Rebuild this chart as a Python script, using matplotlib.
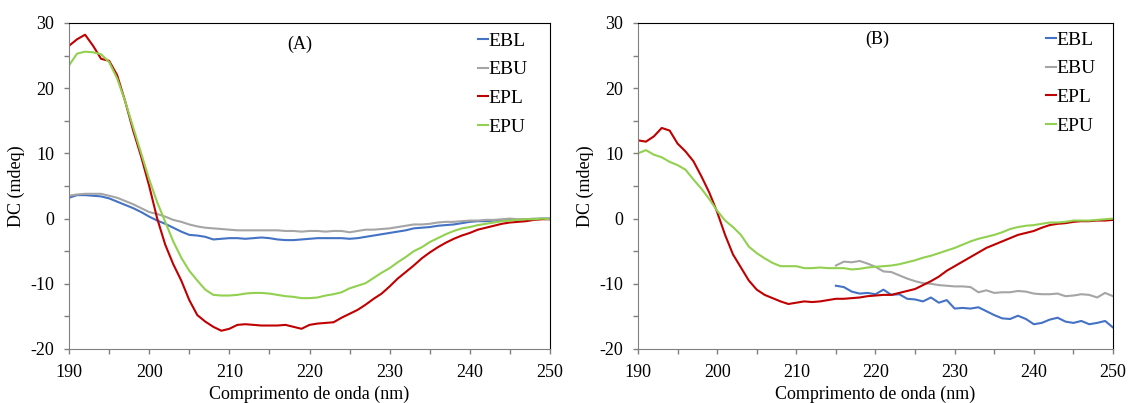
import matplotlib
matplotlib.use('Agg')
import matplotlib.pyplot as plt
from matplotlib.ticker import MultipleLocator
import numpy as np

plt.rcParams['font.family'] = ['Liberation Serif', 'DejaVu Serif']
plt.rcParams['axes.unicode_minus'] = False

wl = np.arange(190, 251)
wl_b_short = np.arange(215, 251)

# Panel A
ebl_a = [3.2, 3.6, 3.6, 3.5, 3.4, 3.1, 2.6, 2.1, 1.6, 1.0, 0.3, -0.3, -0.8, -1.4, -2.0, -2.5, -2.6, -2.8, -3.2, -3.1,
         -3.0, -3.0, -3.1, -3.0, -2.9, -3.0, -3.2, -3.3, -3.3, -3.2, -3.1, -3.0, -3.0, -3.0, -3.0, -3.1, -3.0, -2.8, -2.6, -2.4,
         -2.2, -2.0, -1.8, -1.5, -1.4, -1.3, -1.1, -1.0, -0.9, -0.7, -0.5, -0.4, -0.4, -0.3, -0.3, -0.2, -0.2, -0.1, -0.1, 0.0, 0.0]
ebu_a = [3.5, 3.7, 3.8, 3.8, 3.8, 3.5, 3.2, 2.7, 2.2, 1.6, 1.0, 0.7, 0.3, -0.2, -0.5, -0.9, -1.2, -1.4, -1.5, -1.6,
         -1.7, -1.8, -1.8, -1.8, -1.8, -1.8, -1.8, -1.9, -1.9, -2.0, -1.9, -1.9, -2.0, -1.9, -1.9, -2.1, -1.9, -1.7, -1.7, -1.6,
         -1.5, -1.3, -1.1, -0.9, -0.9, -0.8, -0.6, -0.5, -0.5, -0.4, -0.3, -0.3, -0.2, -0.2, -0.1, 0.0, -0.1, -0.1, 0.0, 0.0, 0.0]
epl_a = [26.5, 27.5, 28.2, 26.5, 24.5, 24.2, 22.0, 18.0, 13.5, 9.5, 5.0, 0.0, -4.0, -7.0, -9.5, -12.5, -14.8, -15.8, -16.6, -17.2,
         -16.9, -16.3, -16.2, -16.3, -16.4, -16.4, -16.4, -16.3, -16.6, -16.9, -16.3, -16.1, -16.0, -15.9, -15.2, -14.6, -14.0, -13.2, -12.3, -11.5,
         -10.4, -9.2, -8.2, -7.2, -6.1, -5.2, -4.4, -3.7, -3.1, -2.6, -2.2, -1.7, -1.4, -1.1, -0.8, -0.6, -0.5, -0.4, -0.2, -0.1, -0.1]
epu_a = [23.5, 25.3, 25.6, 25.5, 25.2, 24.0, 21.5, 18.0, 14.0, 10.0, 6.0, 2.5, -0.5, -3.5, -6.0, -8.0, -9.5, -10.9, -11.7, -11.8,
         -11.8, -11.7, -11.5, -11.4, -11.4, -11.5, -11.7, -11.9, -12.0, -12.2, -12.2, -12.1, -11.8, -11.6, -11.3, -10.7, -10.3, -9.9, -9.1, -8.3,
         -7.6, -6.7, -5.9, -5.0, -4.4, -3.6, -3.0, -2.4, -1.9, -1.5, -1.3, -1.0, -0.8, -0.6, -0.4, -0.3, -0.2, -0.1, -0.1, 0.0, -0.1]

# Panel B (EBL and EBU only from 215 nm)
ebl_b = [-10.3, -10.5, -11.2, -11.5, -11.4, -11.6, -10.9, -11.7, -11.6, -12.3, -12.4, -12.7, -12.1, -12.9, -12.5,
         -13.8, -13.7, -13.8, -13.6, -14.2, -14.8, -15.3, -15.4, -14.9, -15.4, -16.2, -16.0, -15.5, -15.2, -15.8,
         -16.0, -15.7, -16.2, -16.0, -15.7, -16.7]
ebu_b = [-7.2, -6.6, -6.7, -6.5, -6.9, -7.4, -8.1, -8.2, -8.7, -9.2, -9.6, -9.9, -10.0, -10.2, -10.3,
         -10.4, -10.4, -10.5, -11.3, -11.0, -11.4, -11.3, -11.3, -11.1, -11.2, -11.5, -11.6, -11.6, -11.5, -11.9,
         -11.8, -11.6, -11.7, -12.1, -11.4, -11.9]
epl_b = [12.0, 11.8, 12.6, 13.9, 13.5, 11.5, 10.3, 8.8, 6.5, 4.0, 1.0, -2.5, -5.5, -7.5, -9.5, -10.9, -11.7, -12.2, -12.7, -13.1,
         -12.9, -12.7, -12.8, -12.7, -12.5, -12.3, -12.3, -12.2, -12.1, -11.9, -11.8, -11.7, -11.7, -11.4, -11.1, -10.8, -10.2, -9.6, -8.9, -8.0,
         -7.3, -6.6, -5.9, -5.2, -4.5, -4.0, -3.5, -3.0, -2.5, -2.2, -1.9, -1.4, -1.0, -0.8, -0.7, -0.5, -0.4, -0.4, -0.3, -0.3, -0.2]
epu_b = [10.0, 10.5, 9.8, 9.4, 8.7, 8.2, 7.5, 6.0, 4.6, 3.0, 1.2, -0.3, -1.3, -2.5, -4.3, -5.3, -6.1, -6.8, -7.3, -7.3,
         -7.3, -7.6, -7.6, -7.5, -7.6, -7.6, -7.6, -7.8, -7.7, -7.5, -7.4, -7.3, -7.2, -7.0, -6.7, -6.4, -6.0, -5.7, -5.3, -4.9,
         -4.5, -4.0, -3.5, -3.1, -2.8, -2.5, -2.1, -1.6, -1.3, -1.1, -1.0, -0.8, -0.6, -0.6, -0.5, -0.3, -0.3, -0.3, -0.2, -0.1, 0.0]

colors = {'EBL': '#4472C4', 'EBU': '#A5A5A5', 'EPL': '#C00000', 'EPU': '#92D050'}

fig = plt.figure(figsize=(11.28, 4.03), dpi=100)
ax1 = fig.add_axes([0.0612, 0.134, 0.4264, 0.809])
ax2 = fig.add_axes([0.5656, 0.134, 0.4211, 0.809])


def style(ax, tag, tag_pos, leg_pos):
    ax.set_xlim(190, 250)
    ax.set_ylim(-20, 30)
    ax.xaxis.set_major_locator(MultipleLocator(10))
    ax.xaxis.set_minor_locator(MultipleLocator(5))
    ax.yaxis.set_major_locator(MultipleLocator(10))
    ax.yaxis.set_minor_locator(MultipleLocator(5))
    ax.tick_params(which='both', direction='out', length=3.5, width=1, color='#808080', labelsize=13)
    ax.tick_params(axis='x', pad=7)
    ax.tick_params(axis='y', pad=7)
    for side in ['left', 'bottom']:
        ax.spines[side].set_color('#808080')
    for side in ['top', 'right']:
        ax.spines[side].set_color('#000000')
    ax.set_xlabel('Comprimento de onda (nm)', fontsize=13, labelpad=4)
    ax.set_ylabel('DC (mdeq)', fontsize=13, labelpad=4)
    ax.text(tag_pos[0], tag_pos[1], tag, transform=ax.transAxes, ha='center', va='center', fontsize=13)
    ax.legend(loc='upper left', frameon=False, fontsize=14, handlelength=0.5,
              handletextpad=0.05, labelspacing=0.57, borderaxespad=0.0, borderpad=0.0,
              bbox_to_anchor=leg_pos)


ax1.plot(wl, ebl_a, color=colors['EBL'], lw=1.5, label='EBL')
ax1.plot(wl, ebu_a, color=colors['EBU'], lw=1.5, label='EBU')
ax1.plot(wl, epl_a, color=colors['EPL'], lw=1.5, label='EPL')
ax1.plot(wl, epu_a, color=colors['EPU'], lw=1.5, label='EPU')
style(ax1, '(A)', (0.48, 0.933), (0.850, 0.972))

ax2.plot(wl_b_short, ebl_b, color=colors['EBL'], lw=1.5, label='EBL')
ax2.plot(wl_b_short, ebu_b, color=colors['EBU'], lw=1.5, label='EBU')
ax2.plot(wl, epl_b, color=colors['EPL'], lw=1.5, label='EPL')
ax2.plot(wl, epu_b, color=colors['EPU'], lw=1.5, label='EPU')
style(ax2, '(B)', (0.503, 0.949), (0.859, 0.975))

fig.savefig('out.png', dpi=100)
